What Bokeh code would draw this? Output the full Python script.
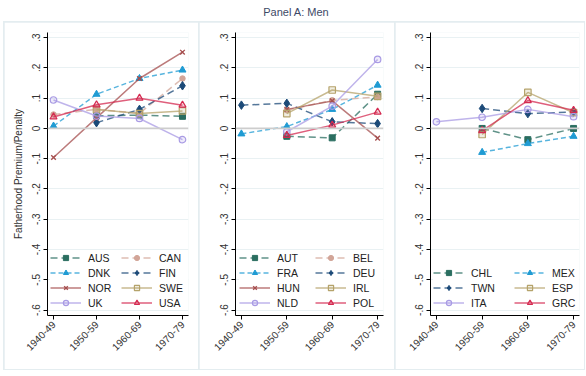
import numpy as np
from bokeh.plotting import figure
from bokeh.models import FixedTicker, Span, Legend, LegendItem, Div, Range1d
from bokeh.layouts import row, column
from bokeh.embed import file_html
from bokeh.resources import INLINE

nan = float("nan")

# ---------------- data ----------------
cohorts = ["1940-49", "1950-59", "1960-69", "1970-79"]
y_ticks = [0.3, 0.2, 0.1, 0.0, -0.1, -0.2, -0.3, -0.4, -0.5, -0.6]
y_tick_labels = [".3", ".2", ".1", "0", "-.1", "-.2", "-.3", "-.4", "-.5", "-.6"]
title_text = "Panel A: Men"
y_title = "Fatherhood Premium/Penalty"

# Panel 1
AUS = [nan, 0.042, 0.044, 0.040]
CAN = [0.046, 0.063, 0.050, 0.165]
DNK = [0.008, 0.113, 0.165, 0.193]
FIN = [nan, 0.019, 0.063, 0.141]
NOR = [-0.096, 0.035, 0.165, 0.252]
SWE = [nan, 0.063, 0.049, 0.058]
UK = [0.094, 0.041, 0.033, -0.037]
USA = [0.038, 0.078, 0.100, 0.077]

# Panel 2
AUT = [nan, -0.026, -0.031, 0.113]
BEL = [nan, 0.060, 0.093, 0.104]
FRA = [-0.018, 0.006, 0.063, 0.143]
DEU = [0.077, 0.083, 0.022, 0.016]
HUN = [nan, 0.063, 0.091, -0.032]
IRL = [nan, 0.049, 0.127, 0.106]
NLD = [nan, -0.011, 0.074, 0.228]
POL = [nan, -0.023, 0.011, 0.054]

# Panel 3
CHL = [nan, 0.000, -0.037, 0.000]
MEX = [nan, -0.079, -0.050, -0.026]
TWN = [nan, 0.066, 0.049, 0.054]
ESP = [nan, -0.020, 0.119, 0.052]
ITA = [0.022, 0.037, 0.063, 0.039]
GRC = [nan, -0.007, 0.092, 0.060]

panel1 = [("AUS", AUS, 0), ("CAN", CAN, 1), ("DNK", DNK, 2), ("FIN", FIN, 3),
          ("NOR", NOR, 4), ("SWE", SWE, 5), ("UK", UK, 6), ("USA", USA, 7)]
panel2 = [("AUT", AUT, 0), ("BEL", BEL, 1), ("FRA", FRA, 2), ("DEU", DEU, 3),
          ("HUN", HUN, 4), ("IRL", IRL, 5), ("NLD", NLD, 6), ("POL", POL, 7)]
panel3 = [("CHL", CHL, 0), ("MEX", MEX, 2), ("TWN", TWN, 3), ("ESP", ESP, 5),
          ("ITA", ITA, 6), ("GRC", GRC, 7)]

# ---------------- styles ----------------
STYLES = [
    dict(color="#2a6e60", dash="7 4", marker="square", size=6, hollow=False),
    dict(color="#d2a598", dash="7 4", marker="circle", size=5.5, hollow=False),
    dict(color="#1f9bd3", dash="5 3", marker="triangle", size=7, hollow=False),
    dict(color="#1c4a78", dash="7 4", marker="diamond", size=8.5, hollow=False),
    dict(color="#a64f4f", dash="solid", marker="x", size=6.5, hollow=False),
    dict(color="#b5a36b", dash="solid", marker="square", size=6.5, hollow=True),
    dict(color="#a99be4", dash="solid", marker="circle", size=6.5, hollow=True),
    dict(color="#d42a50", dash="solid", marker="triangle", size=7, hollow=True),
]

FONT = "Liberation Sans"
x = np.arange(len(cohorts))


def make_panel(series, width, bl, br, xpad, leg_x, label_w, show_ytitle):
    p = figure(width=width, height=347, output_backend="svg", toolbar_location=None,
               x_range=Range1d(-xpad, 3 + xpad), y_range=Range1d(-0.618, 0.317),
               min_border_left=bl, min_border_right=br, min_border_top=10,
               min_border_bottom=54, margin=(1, 0, 1, 1))
    p.outline_line_color = None
    p.background_fill_color = "white"
    p.border_fill_color = "white"

    p.xgrid.visible = False
    p.ygrid.ticker = FixedTicker(ticks=[t for t in y_ticks if t != 0])
    p.ygrid.grid_line_color = "#e9f1f3"
    p.ygrid.grid_line_width = 1

    p.add_layout(Span(location=0, dimension="width", line_color="#cdcdcd", line_width=1.8))

    p.xaxis.ticker = FixedTicker(ticks=list(x))
    p.xaxis.major_label_overrides = {int(i): c for i, c in zip(x, cohorts)}
    p.xaxis.major_label_orientation = np.pi / 4
    p.yaxis.ticker = FixedTicker(ticks=y_ticks)
    p.yaxis.major_label_overrides = {t: l for t, l in zip(y_ticks, y_tick_labels)}
    p.yaxis.major_label_orientation = "vertical"
    for ax in (p.xaxis, p.yaxis):
        ax.axis_line_color = "black"
        ax.axis_line_width = 1
        ax.major_tick_line_color = "black"
        ax.major_tick_out = 4
        ax.major_tick_in = 0
        ax.minor_tick_line_color = None
        ax.major_label_text_font = FONT
        ax.major_label_text_font_size = "10px"
        ax.major_label_text_color = "#333333"
        ax.major_label_standoff = 3
    if show_ytitle:
        p.yaxis.axis_label = y_title
        p.yaxis.axis_label_text_font = FONT
        p.yaxis.axis_label_text_font_size = "10px"
        p.yaxis.axis_label_text_font_style = "normal"
        p.yaxis.axis_label_text_color = "#333333"
        p.yaxis.axis_label_standoff = 6

    items = []
    for name, vals, si in series:
        st = STYLES[si]
        ys = np.array(vals, dtype=float)
        rl = p.line(x, ys, line_color=st["color"], line_width=1.5,
                    line_dash=st["dash"], line_alpha=0.75)
        if st["marker"] == "x":
            rm = p.scatter(x, ys, marker="x", size=st["size"], line_color=st["color"],
                           line_width=1.4)
        elif st["hollow"]:
            rm = p.scatter(x, ys, marker=st["marker"], size=st["size"],
                           line_color=st["color"], fill_color=st["color"],
                           fill_alpha=0.2, line_width=1.2)
        else:
            rm = p.scatter(x, ys, marker=st["marker"], size=st["size"],
                           line_color=st["color"], fill_color=st["color"],
                           fill_alpha=1.0, line_width=1.0)
        items.append(LegendItem(label=name, renderers=[rl, rm]))

    leg = Legend(items=items, orientation="horizontal", ncols=2,
                 location=(leg_x, 6), padding=4, margin=0, spacing=2,
                 glyph_width=31, glyph_height=13, label_height=13,
                 label_width=label_w, label_standoff=7,
                 label_text_font=FONT, label_text_font_size="10.5px",
                 label_text_color="#222222",
                 background_fill_color="white", background_fill_alpha=1.0,
                 border_line_color=None)
    p.add_layout(leg)
    return p


p1 = make_panel(panel1, 194, 43, 10, 0.14, 3, 31, True)
p2 = make_panel(panel2, 195, 36, 11, 0.13, 4, 36, False)
p3 = make_panel(panel3, 189, 35, 5, 0.13, 3, 41, False)
p3.margin = (1, 1, 1, 1)

title = Div(text=title_text, width=580, height=21, margin=(0, 0, 0, 6),
            styles={"text-align": "center", "font-family": FONT, "font-size": "11px",
                    "color": "#3d4966", "line-height": "24px"})

panels = row(p1, p2, p3, margin=(0, 0, 0, 3),
             styles={"background-color": "#e4edf0"})
layout = column(title, panels, margin=0)

open("out.html", "w").write(file_html(layout, INLINE))
